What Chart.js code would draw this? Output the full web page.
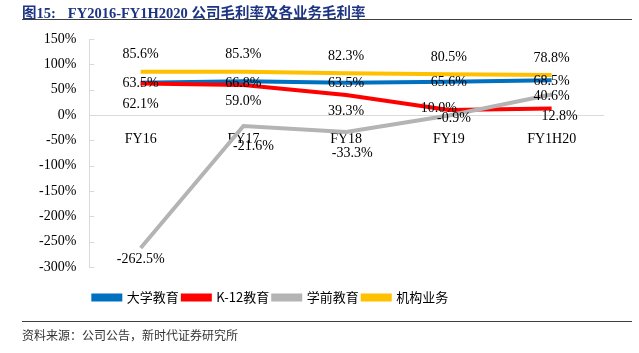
<!DOCTYPE html>
<html>
<head>
<meta charset="utf-8">
<script src="https://cdn.jsdelivr.net/npm/chart.js@4"></script>
<style>
  body { margin: 0; background: #fff; }
  #wrap { position: relative; width: 639px; height: 353px; }
  #title { position: absolute; left: 22px; top: 1px; font: bold 14.5px "Liberation Serif", "Noto Sans CJK SC"; color: #1c3483; white-space: nowrap; }
  #title span { margin-right: 12px; }
  .rule { position: absolute; left: 22px; width: 610px; height: 1px; background: #404040; }
  #source { position: absolute; left: 22px; top: 326px; font: 12px "Noto Sans CJK SC"; color: #333; white-space: nowrap; }
  canvas { position: absolute; left: 0; top: 0; }
</style>
</head>
<body>
<div id="wrap">
  <canvas id="myLineChart" width="639" height="353"></canvas>
  <div id="title"><span>图15:</span>FY2016-FY1H2020 公司毛利率及各业务毛利率</div>
  <div class="rule" style="top:19px"></div>
  <div class="rule" style="top:321px"></div>
  <div id="source">资料来源：公司公告，新时代证券研究所</div>
</div>
<script>
const years = ['FY16', 'FY17', 'FY18', 'FY19', 'FY1H20'];
const college = [63.5, 66.8, 63.5, 65.6, 68.5];
const k12 = [62.1, 59.0, 39.3, 10.0, 12.8];
const preschool = [-262.5, -21.6, -33.3, -0.9, 40.6];
const institution = [85.6, 85.3, 82.3, 80.5, 78.8];

// where each value label sits, relative to its point [dx, dy]
const labelShift = [
    [[0, 1], [0, 2], [0, 1], [0, 1], [0, 1]],
    [[0, 21], [0, 16], [0, 16], [-10, -2], [8, 8]],
    [[0, 11], [10, 20], [6, 21], [5, 3], [0, 2]],
    [[0, -17], [0, -17], [0, -17], [0, -17], [0, -17]]
];

const valueLabels = {
    id: 'valueLabels',
    afterDatasetsDraw(chart) {
        const ctx = chart.ctx;
        ctx.save();
        ctx.font = '14px "Liberation Serif"';
        ctx.fillStyle = '#000';
        ctx.textAlign = 'center';
        ctx.textBaseline = 'middle';
        chart.data.datasets.forEach(function (ds, i) {
            chart.getDatasetMeta(i).data.forEach(function (pt, j) {
                const s = labelShift[i][j];
                ctx.fillText(ds.data[j].toFixed(1) + '%', pt.x + s[0], pt.y + s[1]);
            });
        });
        ctx.restore();
    }
};

// short tick marks pointing into the plot, like the original
const innerTicks = {
    id: 'innerTicks',
    beforeDatasetsDraw(chart) {
        const y = chart.scales.y;
        const ctx = chart.ctx;
        ctx.save();
        ctx.strokeStyle = '#d9d9d9';
        ctx.lineWidth = 1;
        y.ticks.forEach(function (t) {
            const py = Math.round(y.getPixelForValue(t.value)) + 0.5;
            ctx.beginPath();
            ctx.moveTo(y.right, py);
            ctx.lineTo(y.right + 5, py);
            ctx.stroke();
        });
        ctx.restore();
    }
};

function series(label, data, color, order) {
    return {
        label: label,
        data: data,
        borderColor: color,
        backgroundColor: color,
        borderWidth: 4,
        pointRadius: 0,
        tension: 0,
        order: order
    };
}

const ctx = document.getElementById('myLineChart').getContext('2d');
const myLineChart = new Chart(ctx, {
    type: 'line',
    data: {
        labels: years,
        datasets: [
            series('大学教育', college, '#0070C0', 4),
            series('K-12教育', k12, '#FF0000', 3),
            series('学前教育', preschool, '#B4B4B4', 2),
            series('机构业务', institution, '#FFC000', 1)
        ]
    },
    options: {
        responsive: false,
        animation: false,
        layout: { padding: { left: 34, right: 36, top: 39, bottom: 39 } },
        plugins: {
            legend: {
                position: 'bottom',
                fullSize: false,
                align: 'start',
                labels: {
                    boxWidth: 27,
                    boxHeight: 4,
                    padding: 4,
                    color: '#000',
                    font: { family: 'Noto Sans CJK SC', size: 13 },
                    sort: function (a, b) { return a.datasetIndex - b.datasetIndex; }
                }
            },
            tooltip: { enabled: false }
        },
        scales: {
            x: {
                position: { y: 0 },
                offset: true,
                grid: { display: false },
                border: { color: '#d9d9d9', width: 1 },
                ticks: { color: '#000', padding: 8, font: { family: 'Liberation Serif', size: 14 } }
            },
            // empty band between plot and legend
            gap: {
                type: 'category',
                position: 'bottom',
                grid: { display: false },
                border: { display: false },
                ticks: { display: false },
                afterFit: function (scale) { scale.height = 20; }
            },
            y: {
                min: -300,
                max: 150,
                grid: { display: false },
                border: { color: '#d9d9d9', width: 1 },
                ticks: {
                    stepSize: 50,
                    color: '#000',
                    padding: 5,
                    font: { family: 'Liberation Serif', size: 14 },
                    callback: function (v) { return v + '%'; }
                }
            }
        }
    },
    plugins: [innerTicks, valueLabels]
});
</script>
</body>
</html>
